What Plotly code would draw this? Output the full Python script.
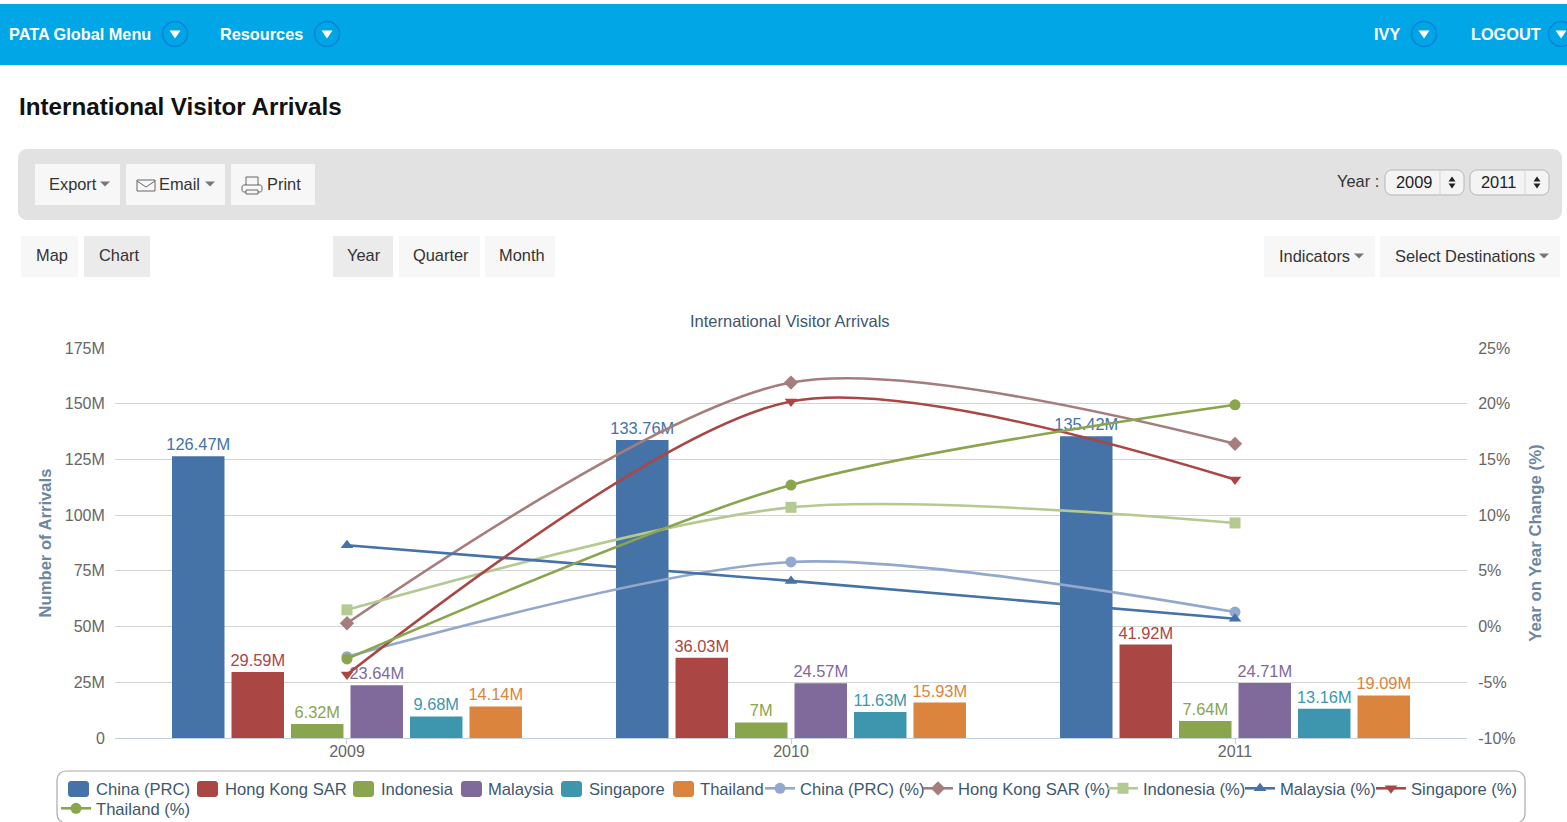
import plotly.graph_objects as go

W, H = 1567, 840  # canvas is slightly taller than the 822px window; the overflow is clipped by the page
FONT = "Liberation Sans, Arial, sans-serif"

years = ["2009", "2010", "2011"]
bar_names = ["China (PRC)", "Hong Kong SAR", "Indonesia", "Malaysia", "Singapore", "Thailand"]
china = [126.47, 133.76, 135.42]
hong_kong = [29.59, 36.03, 41.92]
indonesia = [6.32, 7, 7.64]
malaysia = [23.64, 24.57, 24.71]
singapore = [9.68, 11.63, 13.16]
thailand = [14.14, 15.93, 19.09]

line_names = ["China (PRC) (%)", "Hong Kong SAR (%)", "Indonesia (%)", "Malaysia (%)", "Singapore (%)", "Thailand (%)"]
china_pct = [-2.7, 5.8, 1.3]
hong_kong_pct = [0.3, 21.9, 16.4]
indonesia_pct = [1.5, 10.7, 9.3]
malaysia_pct = [7.3, 4.1, 0.7]
singapore_pct = [-4.3, 20.2, 13.2]
thailand_pct = [-2.9, 12.7, 19.9]

bar_colors = ["#4572A7", "#AA4643", "#89A54E", "#80699B", "#3D96AE", "#DB843D"]
line_colors = ["#92A8CD", "#A47D7C", "#B5CA92", "#4572A7", "#AA4643", "#89A54E"]
line_symbols = ["circle", "diamond", "square", "triangle-up", "triangle-down", "circle"]

left_ticks = [0, 25, 50, 75, 100, 125, 150, 175]
left_labels = ["0", "25M", "50M", "75M", "100M", "125M", "150M", "175M"]
right_ticks = [-10, -5, 0, 5, 10, 15, 20, 25]
right_labels = ["-10%", "-5%", "0%", "5%", "10%", "15%", "20%", "25%"]

# legend entry placement (pixel column of each legend box, top of the box)
legend_x = [56, 185, 341, 448, 549, 660, 760, 918, 1103, 1240, 1371, 56]
legend_top = [771, 771, 771, 771, 771, 771, 771, 771, 771, 771, 771, 791]
swatch_x = [68, 197, 353, 461, 561, 673]


def X(p):
    return p / W


def Y(p):
    return 1 - p / H


def rrect(x0, y0, x1, y1, r):
    k = 0.45 * r
    return (
        f"M{X(x0 + r)},{Y(y0)} L{X(x1 - r)},{Y(y0)} "
        f"C{X(x1 - k)},{Y(y0)} {X(x1)},{Y(y0 + k)} {X(x1)},{Y(y0 + r)} "
        f"L{X(x1)},{Y(y1 - r)} C{X(x1)},{Y(y1 - k)} {X(x1 - k)},{Y(y1)} {X(x1 - r)},{Y(y1)} "
        f"L{X(x0 + r)},{Y(y1)} C{X(x0 + k)},{Y(y1)} {X(x0)},{Y(y1 - k)} {X(x0)},{Y(y1 - r)} "
        f"L{X(x0)},{Y(y0 + r)} C{X(x0)},{Y(y0 + k)} {X(x0 + k)},{Y(y0)} {X(x0 + r)},{Y(y0)} Z"
    )


def poly(points):
    return "M" + " L".join(f"{X(a)},{Y(b)}" for a, b in points) + " Z"


shapes = []
annotations = []


def box(x0, y0, x1, y1, fill, line=None, lw=0, r=0):
    shapes.append(dict(type="path", xref="paper", yref="paper", layer="below",
                       path=rrect(x0, y0, x1, y1, r) if r else poly([(x0, y0), (x1, y0), (x1, y1), (x0, y1)]),
                       fillcolor=fill, line=dict(color=line or fill, width=lw)))


def tri(cx, cy, w, h, color, up=False):
    s = -1 if up else 1
    shapes.append(dict(type="path", xref="paper", yref="paper", layer="below",
                       path=poly([(cx - w / 2, cy - s * h / 2), (cx + w / 2, cy - s * h / 2), (cx, cy + s * h / 2)]),
                       fillcolor=color, line=dict(width=0)))


def label(x, y, text, size=16.4, color="#333333", bold=False, anchor="left"):
    annotations.append(dict(xref="paper", yref="paper", x=X(x), y=Y(y), text=f"<b>{text}</b>" if bold else text,
                            showarrow=False, xanchor=anchor, yanchor="middle", borderpad=0, borderwidth=0,
                            font=dict(family=FONT, size=size, color=color)))


def nav_dot(cx, cy):
    shapes.append(dict(type="circle", xref="paper", yref="paper", layer="below",
                       x0=X(cx - 12.5), x1=X(cx + 12.5), y0=Y(cy + 12.5), y1=Y(cy - 12.5),
                       fillcolor="#00A5E6", line=dict(color="#0A82D8", width=1.5)))
    tri(cx, cy + 0.5, 11, 8, "#FFFFFF")


# Page header
box(0, 4, W, 65, "#00A6E6")
label(9, 34, "PATA Global Menu", 16.3, "#FFFFFF", True)
nav_dot(175, 34)
label(220, 34, "Resources", 16.3, "#FFFFFF", True)
nav_dot(327, 34)
label(1374, 34, "IVY", 16.3, "#FFFFFF", True)
nav_dot(1424, 34)
label(1471, 34, "LOGOUT", 16.3, "#FFFFFF", True)
nav_dot(1561, 34)

label(19, 106, "International Visitor Arrivals", 24.2, "#111111", True)

# Toolbar
box(18, 149, 1562, 220, "#E2E2E2", r=9)
box(35, 164, 120, 205, "#F7F7F7")
label(49, 184, "Export")
tri(105, 184, 10, 5, "#777777")
box(126, 164, 225, 205, "#F7F7F7")
box(137, 180, 155, 191, "#F7F7F7", "#666666", 1)
shapes.append(dict(type="path", xref="paper", yref="paper", layer="below",
                   path=f"M{X(137)},{Y(181)} L{X(146)},{Y(187)} L{X(155)},{Y(181)}",
                   line=dict(color="#666666", width=1)))
label(159, 184, "Email")
tri(210, 184, 10, 5, "#777777")
box(231, 164, 315, 205, "#F7F7F7")
box(246, 177, 258, 186, "#F7F7F7", "#666666", 1)
box(242, 185, 262, 192, "#F7F7F7", "#666666", 1, r=2)
box(246, 190, 258, 194, "#F7F7F7", "#666666", 1)
label(267, 184, "Print")

label(1337, 181, "Year :")
for x0, x1, txt in [(1385, 1464, "2009"), (1470, 1549, "2011")]:
    box(x0, 170, x1, 195, "#F4F4F4", "#B5B5B5", 1, r=7)
    shapes.append(dict(type="line", xref="paper", yref="paper", layer="below",
                       x0=X(x1 - 24), x1=X(x1 - 24), y0=Y(171), y1=Y(194),
                       line=dict(color="#D5D5D5", width=1)))
    label(x0 + 11, 182, txt, 16.4, "#222222")
    tri(x1 - 12, 179, 7, 5, "#222222", up=True)
    tri(x1 - 12, 186, 7, 5, "#222222")

# Tab buttons
box(21, 236, 78, 277, "#F7F7F7")
label(36, 255, "Map")
box(84, 236, 150, 277, "#EBEBEB")
label(99, 255, "Chart")
box(333, 236, 393, 277, "#EBEBEB")
label(347, 255, "Year")
box(399, 236, 480, 277, "#F7F7F7")
label(413, 255, "Quarter")
box(485, 236, 555, 277, "#F7F7F7")
label(499, 255, "Month")
box(1264, 236, 1375, 277, "#F7F7F7")
label(1279, 256, "Indicators")
tri(1359, 256, 10, 5, "#777777")
box(1380, 236, 1560, 277, "#F7F7F7")
label(1395, 256, "Select Destinations")
tri(1544, 256, 10, 5, "#777777")

# Chart title
label(790, 321, "International Visitor Arrivals", 16.5, "#3E576F", anchor="center")

# Rounded frame behind the legend entries, and the larger rounded swatches
box(57, 771, 1525, 823, "#FFFFFF", "#AAAAAA", 1.2, r=9)
for sx, col in zip(swatch_x, bar_colors):
    box(sx, 781, sx + 21, 797, col, r=3)

fig = go.Figure()


def legend_id(i):
    return "legend" if i == 0 else f"legend{i + 1}"


for i, (name, vals, col) in enumerate(zip(bar_names, [china, hong_kong, indonesia, malaysia, singapore, thailand], bar_colors)):
    fig.add_trace(go.Bar(
        name=name, x=years, y=vals, legend=legend_id(i), showlegend=True,
        marker=dict(color=col, line=dict(width=6, color="rgba(0,0,0,0)")),
        text=[f"{v:g}M" for v in vals], textposition="outside", textangle=0, cliponaxis=False,
        constraintext="none", textfont=dict(family=FONT, size=16.4, color=col), hoverinfo="skip",
    ))

for i, (name, vals, col, sym) in enumerate(zip(line_names,
                                [china_pct, hong_kong_pct, indonesia_pct, malaysia_pct, singapore_pct, thailand_pct],
                                line_colors, line_symbols)):
    fig.add_trace(go.Scatter(
        name=name, x=years, y=vals, yaxis="y2", mode="lines+markers", legend=legend_id(i + 6),
        showlegend=True,
        line=dict(color=col, width=2.6, shape="spline", smoothing=0.8),
        marker=dict(symbol=sym, size=11, color=col), cliponaxis=False, hoverinfo="skip",
    ))

legends = {
    legend_id(i): dict(orientation="h", x=X(legend_x[i]), y=Y(legend_top[i]), xanchor="left", yanchor="top",
                       bgcolor="rgba(0,0,0,0)", borderwidth=0, itemwidth=30,
                       font=dict(family=FONT, size=16.6, color="#3E576F"))
    for i in range(12)
}

fig.update_layout(
    width=W, height=H, autosize=False, showlegend=True,
    margin=dict(l=0, r=0, t=0, b=0, pad=0),
    paper_bgcolor="#FFFFFF", plot_bgcolor="#FFFFFF",
    font=dict(family=FONT, size=16, color="#666666"),
    barmode="group", bargap=0.196, bargroupgap=0.118,
    xaxis=dict(domain=[115 / W, 1467 / W], type="category", range=[-0.5225, 2.5225], automargin=False,
               showgrid=False, showline=True, linecolor="#C0D0E0", linewidth=1,
               ticks="outside", ticklen=5, tickcolor="#C0D0E0", ticklabelstandoff=-6,
               tickfont=dict(family=FONT, size=16, color="#666666"), fixedrange=True),
    yaxis=dict(domain=[1 - 738 / H, 1 - 348 / H], range=[0, 175], tickvals=left_ticks, ticktext=left_labels,
               automargin=False,
               showgrid=True, gridcolor="#D4D4D4", gridwidth=1, zeroline=False, showline=False,
               ticks="outside", ticklen=6, tickcolor="rgba(0,0,0,0)",
               tickfont=dict(family=FONT, size=16, color="#666666"), fixedrange=True,
               title=dict(text="<b>Number of Arrivals</b>", standoff=8,
                          font=dict(family=FONT, size=16.6, color="#6D869F"))),
    yaxis2=dict(overlaying="y", side="right", anchor="x", range=[-10, 25], tickvals=right_ticks,
                ticktext=right_labels, showgrid=False, zeroline=False, showline=False, automargin=False,
                ticks="outside", ticklen=7, tickcolor="rgba(0,0,0,0)",
                tickfont=dict(family=FONT, size=16, color="#666666"), fixedrange=True,
                title=dict(text="<b>Year on Year Change (%)</b>", standoff=14,
                           font=dict(family=FONT, size=16.8, color="#6D869F"))),
    shapes=shapes,
    annotations=annotations,
    **legends,
)

fig.write_html("out.html", config=dict(displayModeBar=False),
               post_script="document.body.style.margin='0';document.body.style.overflow='hidden';")
